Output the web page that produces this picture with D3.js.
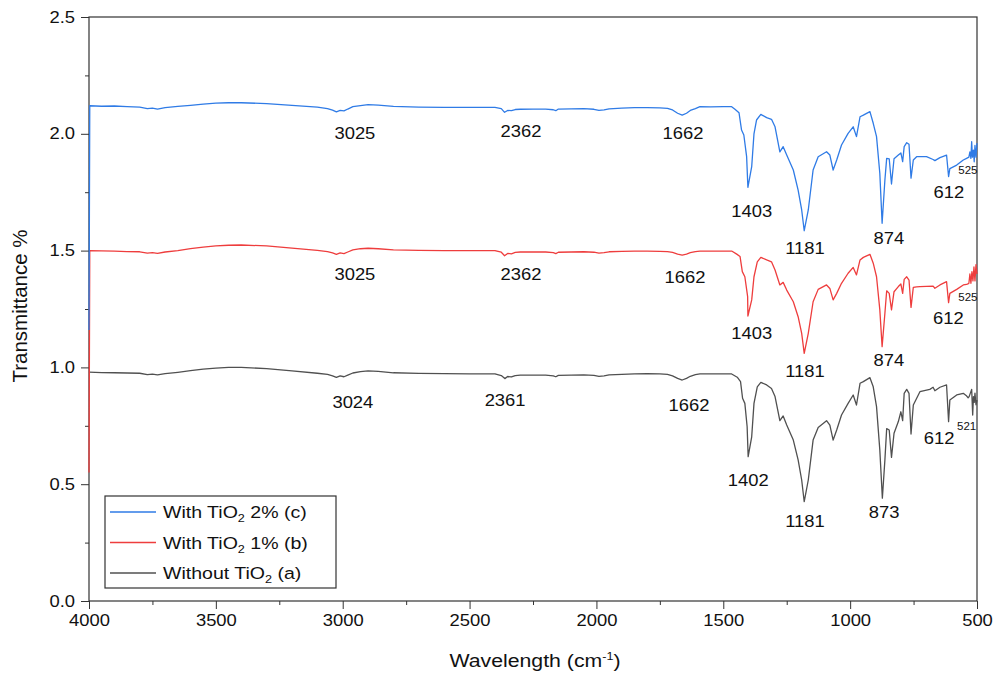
<!DOCTYPE html>
<html>
<head>
<meta charset="utf-8">
<script src="https://cdn.jsdelivr.net/npm/d3@7"></script>
<style>
  html, body { margin: 0; padding: 0; background: #fff; }
  svg { display: block; font-family: "Liberation Sans", Arial, sans-serif; }
</style>
</head>
<body>
<svg id="chart" width="995" height="675"></svg>
<script>
// ---------- DATA (wavenumber cm-1, transmittance) ----------
const xTicks = [4000, 3500, 3000, 2500, 2000, 1500, 1000, 500];
const yTicks = [0.0, 0.5, 1.0, 1.5, 2.0, 2.5];

const seriesNames = ["With TiO2 2% (c)", "With TiO2 1% (b)", "Without TiO2 (a)"];

// (c) With TiO2 2%
const spectrumC = [
  [4000,1.16],[3997,2.12],[3950,2.118],[3900,2.119],[3850,2.116],[3800,2.114],[3770,2.108],[3750,2.110],[3730,2.106],[3700,2.112],
  [3650,2.117],[3600,2.122],[3550,2.127],[3500,2.131],[3450,2.133],[3400,2.133],[3300,2.129],[3200,2.122],[3100,2.114],[3060,2.108],
  [3040,2.101],[3025,2.094],[3010,2.100],[2995,2.098],[2980,2.106],[2960,2.116],[2930,2.121],[2900,2.125],[2860,2.123],[2800,2.117],
  [2700,2.114],[2600,2.113],[2500,2.113],[2400,2.113],[2375,2.108],[2362,2.092],[2350,2.100],[2335,2.099],[2320,2.104],[2300,2.105],
  [2250,2.106],[2200,2.106],[2170,2.103],[2160,2.099],[2150,2.106],[2100,2.107],[2050,2.108],[2010,2.105],[1990,2.100],[1970,2.102],
  [1950,2.107],[1900,2.110],[1850,2.112],[1800,2.112],[1750,2.111],[1720,2.109],[1700,2.102],[1680,2.088],[1662,2.080],[1645,2.088],
  [1630,2.100],[1610,2.108],[1592,2.116],[1550,2.115],[1500,2.116],[1467,2.116],[1454,2.105],[1438,2.090],[1428,2.016],[1419,1.995],
  [1408,1.902],[1403,1.771],[1388,1.859],[1379,2.000],[1369,2.059],[1352,2.083],[1329,2.069],[1310,2.062],[1296,2.030],[1277,1.923],
  [1264,1.945],[1250,1.909],[1224,1.845],[1205,1.759],[1191,1.674],[1181,1.585],[1165,1.674],[1146,1.845],[1126,1.902],[1093,1.923],
  [1080,1.909],[1067,1.845],[1053,1.888],[1034,1.952],[1008,2.002],[988,2.030],[975,1.988],[961,2.073],[948,2.080],[922,2.095],
  [909,2.045],[896,1.988],[883,1.830],[874,1.617],[863,1.802],[856,1.895],[846,1.893],[837,1.785],[827,1.893],[810,1.909],
  [800,1.918],[793,1.881],[787,1.945],[777,1.962],[768,1.955],[760,1.810],[751,1.888],[738,1.902],[720,1.902],[699,1.902],
  [673,1.890],[666,1.885],[646,1.898],[620,1.909],[612,1.817],[607,1.851],[580,1.866],[554,1.888],[541,1.895],[532,1.900],
  [528,1.923],[524,1.895],[521,1.966],[518,1.900],[514,1.930],[511,1.880],[508,1.950],[504,1.900],[500,1.960]
];

// (b) With TiO2 1%
const spectrumB = [
  [4000,0.55],[3997,1.50],[3950,1.499],[3900,1.498],[3850,1.496],[3800,1.495],[3770,1.489],[3750,1.491],[3730,1.488],[3700,1.494],
  [3650,1.500],[3600,1.508],[3550,1.515],[3500,1.520],[3450,1.523],[3400,1.524],[3300,1.520],[3200,1.511],[3100,1.501],[3060,1.496],
  [3040,1.490],[3025,1.484],[3010,1.490],[2995,1.487],[2980,1.494],[2960,1.503],[2930,1.508],[2900,1.510],[2860,1.508],[2800,1.503],
  [2700,1.501],[2600,1.500],[2500,1.500],[2400,1.500],[2375,1.493],[2362,1.478],[2350,1.488],[2335,1.486],[2320,1.492],[2300,1.494],
  [2250,1.494],[2200,1.494],[2170,1.491],[2160,1.487],[2150,1.493],[2100,1.494],[2050,1.495],[2010,1.493],[1990,1.489],[1970,1.491],
  [1950,1.495],[1900,1.497],[1850,1.498],[1800,1.498],[1750,1.497],[1720,1.496],[1700,1.492],[1680,1.485],[1662,1.481],[1645,1.485],
  [1630,1.491],[1610,1.496],[1592,1.498],[1550,1.498],[1500,1.498],[1467,1.498],[1447,1.485],[1434,1.475],[1425,1.410],[1415,1.388],
  [1404,1.303],[1403,1.220],[1388,1.289],[1379,1.388],[1366,1.452],[1352,1.471],[1329,1.460],[1310,1.452],[1296,1.417],[1277,1.353],
  [1264,1.364],[1250,1.331],[1224,1.281],[1205,1.217],[1191,1.146],[1181,1.060],[1165,1.146],[1146,1.281],[1126,1.334],[1093,1.353],
  [1080,1.338],[1067,1.289],[1053,1.317],[1034,1.360],[1008,1.403],[988,1.428],[975,1.396],[961,1.460],[948,1.471],[922,1.484],
  [909,1.446],[896,1.388],[883,1.246],[874,1.089],[863,1.232],[856,1.328],[846,1.317],[837,1.246],[827,1.324],[810,1.346],
  [800,1.357],[793,1.317],[787,1.377],[777,1.388],[768,1.374],[760,1.257],[751,1.343],[738,1.345],[725,1.346],[699,1.347],
  [673,1.348],[666,1.339],[646,1.353],[620,1.367],[612,1.277],[607,1.317],[580,1.334],[554,1.353],[541,1.355],[532,1.360],
  [528,1.400],[524,1.360],[520,1.410],[516,1.370],[512,1.430],[508,1.370],[504,1.440],[500,1.400]
];

// (a) Without TiO2
const spectrumA = [
  [4000,0.980],[3950,0.978],[3900,0.977],[3850,0.976],[3800,0.975],[3770,0.969],[3750,0.971],[3730,0.968],[3700,0.973],
  [3650,0.979],[3600,0.986],[3550,0.993],[3500,0.997],[3450,1.000],[3400,1.000],[3300,0.995],[3200,0.985],[3100,0.975],[3060,0.970],
  [3040,0.964],[3025,0.957],[3010,0.964],[2995,0.960],[2980,0.967],[2960,0.976],[2930,0.982],[2900,0.985],[2860,0.983],[2800,0.977],
  [2700,0.974],[2600,0.973],[2500,0.972],[2400,0.972],[2375,0.965],[2361,0.952],[2350,0.961],[2335,0.959],[2320,0.965],[2300,0.967],
  [2250,0.967],[2200,0.967],[2170,0.964],[2160,0.960],[2150,0.966],[2100,0.967],[2050,0.968],[2010,0.966],[1990,0.962],[1970,0.964],
  [1950,0.968],[1900,0.970],[1850,0.972],[1800,0.973],[1750,0.972],[1720,0.970],[1700,0.964],[1680,0.953],[1662,0.946],[1645,0.953],
  [1630,0.962],[1610,0.969],[1592,0.972],[1550,0.972],[1500,0.972],[1467,0.972],[1445,0.958],[1432,0.939],[1424,0.868],[1415,0.846],
  [1406,0.746],[1402,0.618],[1388,0.703],[1379,0.846],[1366,0.917],[1352,0.936],[1329,0.925],[1310,0.910],[1296,0.875],[1277,0.772],
  [1264,0.792],[1250,0.753],[1224,0.689],[1205,0.604],[1191,0.518],[1181,0.425],[1165,0.518],[1146,0.689],[1126,0.743],[1093,0.772],
  [1080,0.753],[1067,0.689],[1053,0.732],[1034,0.796],[1008,0.846],[988,0.882],[975,0.839],[961,0.932],[948,0.939],[922,0.956],
  [909,0.917],[896,0.832],[883,0.646],[873,0.440],[863,0.604],[856,0.738],[846,0.732],[837,0.615],[827,0.718],[810,0.768],
  [800,0.810],[793,0.772],[787,0.889],[777,0.906],[768,0.889],[760,0.715],[751,0.839],[725,0.896],[686,0.906],[673,0.915],
  [666,0.900],[646,0.915],[620,0.925],[612,0.768],[607,0.860],[580,0.882],[554,0.889],[543,0.880],[535,0.870],[531,0.875],
  [521,0.906],[517,0.796],[514,0.875],[511,0.850],[508,0.890],[504,0.840],[500,0.860]
];

// peak annotations: [label, wavenumber position, transmittance position]
const labelsC = [["3025",2952,2.003],["2362",2297,2.012],["1662",1659,2.003],["1403",1388,1.668],["1181",1178,1.508],["874",847,1.550],["612",611,1.748]];
const labelsB = [["3025",2952,1.396],["2362",2297,1.396],["1662",1651,1.387],["1403",1388,1.146],["1181",1178,0.982],["874",847,1.029],["612",613,1.210]];
const labelsA = [["3024",2960,0.852],["2361",2360,0.860],["1662",1635,0.839],["1402",1402,0.518],["1181",1178,0.339],["873",866,0.380],["612",649,0.697]];
const smallLabels = [["525",536,1.842],["525",536,1.300],["521",541,0.749]];

// ---------- DRAWING ----------
const svg = d3.select("#chart");
const colors = ["#2f7be6", "#ee3d3d", "#505050"];
const font = '"Liberation Sans", Arial, sans-serif';
const STRETCH = 1.15;   // the reference text is slightly wide

const x = d3.scaleLinear().domain([4000, 500]).range([89, 977]);
const y = d3.scaleLinear().domain([0, 2.5]).range([601, 17]);

// axes
const axisColor = "#333";
const xAxis = d3.axisBottom(x).tickValues(xTicks).tickSize(8).tickPadding(6).tickFormat(d3.format("d"));
const xMinor = d3.axisBottom(x).tickValues(d3.range(3750, 500, -500)).tickSize(4).tickFormat("");
const yAxis = d3.axisLeft(y).tickValues(yTicks).tickSize(8).tickPadding(6).tickFormat(d3.format(".1f"));
const yMinor = d3.axisLeft(y).tickValues([0.25, 0.75, 1.25, 1.75, 2.25]).tickSize(4).tickFormat("");

function styleAxis(g) {
  g.select(".domain").remove();
  g.selectAll("line").attr("stroke", axisColor).attr("stroke-width", 1);
  g.selectAll("text").attr("fill", "#111").style("font-family", font).style("font-size", "16px");
}

svg.append("g").attr("transform", "translate(0,601)").call(xAxis).call(styleAxis)
  .selectAll(".tick text").attr("transform", `scale(${STRETCH},1)`);
svg.append("g").attr("transform", "translate(0,601)").call(xMinor).call(styleAxis);
const gy = svg.append("g").attr("transform", "translate(89,0)").call(yAxis).call(styleAxis);
gy.selectAll(".tick text").each(function() {
  const t = d3.select(this);
  const xx = +t.attr("x");
  t.attr("x", 0).attr("transform", `translate(${xx},0) scale(${STRETCH},1)`);
});
svg.append("g").attr("transform", "translate(89,0)").call(yMinor).call(styleAxis);

// frame
svg.append("rect")
  .attr("x", x(4000)).attr("y", y(2.5))
  .attr("width", x(500) - x(4000)).attr("height", y(0) - y(2.5))
  .attr("fill", "none").attr("stroke", axisColor).attr("stroke-width", 1.2);

// lines
const line = d3.line().x(d => x(d[0])).y(d => y(d[1]));
const spectra = [spectrumA, spectrumB, spectrumC];
const specColors = [colors[2], colors[1], colors[0]];
spectra.forEach((s, i) => {
  svg.append("path").datum(s)
    .attr("d", line)
    .attr("fill", "none")
    .attr("stroke", specColors[i])
    .attr("stroke-width", 1.3)
    .attr("stroke-linejoin", "round");
});

// annotations
function addLabels(arr, size) {
  svg.append("g").selectAll("text").data(arr).join("text")
    .attr("transform", d => `translate(${x(d[1])},${y(d[2])}) scale(${STRETCH},1)`)
    .attr("text-anchor", "middle")
    .attr("dominant-baseline", "central")
    .style("font-family", font)
    .style("font-size", size + "px")
    .attr("fill", "#111")
    .text(d => d[0]);
}
addLabels(labelsC, 16);
addLabels(labelsB, 16);
addLabels(labelsA, 16);
addLabels(smallLabels, 10);

// legend
const lg = svg.append("g");
lg.append("rect").attr("x", 105).attr("y", 496).attr("width", 231).attr("height", 92)
  .attr("fill", "#fff").attr("stroke", "#333").attr("stroke-width", 1.2);
const legendParts = [["With TiO", "2", " 2% (c)"], ["With TiO", "2", " 1% (b)"], ["Without TiO", "2", " (a)"]];
legendParts.forEach((p, i) => {
  const cy = 512 + i * 30.5;
  lg.append("line").attr("x1", 110).attr("x2", 156).attr("y1", cy).attr("y2", cy)
    .attr("stroke", colors[i]).attr("stroke-width", 1.3);
  const t = lg.append("text").attr("transform", `translate(163,${cy + 6}) scale(${STRETCH},1)`)
    .style("font-family", font).style("font-size", "17px").attr("fill", "#111");
  t.append("tspan").text(p[0]);
  t.append("tspan").attr("dy", 4).style("font-size", "11px").text(p[1]);
  t.append("tspan").attr("dy", -4).text(p[2]);
});

// axis titles
const xt = svg.append("text").attr("transform", `translate(535,667) scale(${STRETCH},1)`).attr("text-anchor", "middle")
  .style("font-family", font).style("font-size", "18.5px").attr("fill", "#111");
xt.append("tspan").text("Wavelength (cm");
xt.append("tspan").attr("dy", -7).style("font-size", "11px").text("-1");
xt.append("tspan").attr("dy", 7).text(")");

svg.append("text").attr("transform", "translate(27,306) rotate(-90)")
  .attr("text-anchor", "middle")
  .style("font-family", font).style("font-size", "20.5px").attr("fill", "#111")
  .text("Transmittance %");
</script>
</body>
</html>
